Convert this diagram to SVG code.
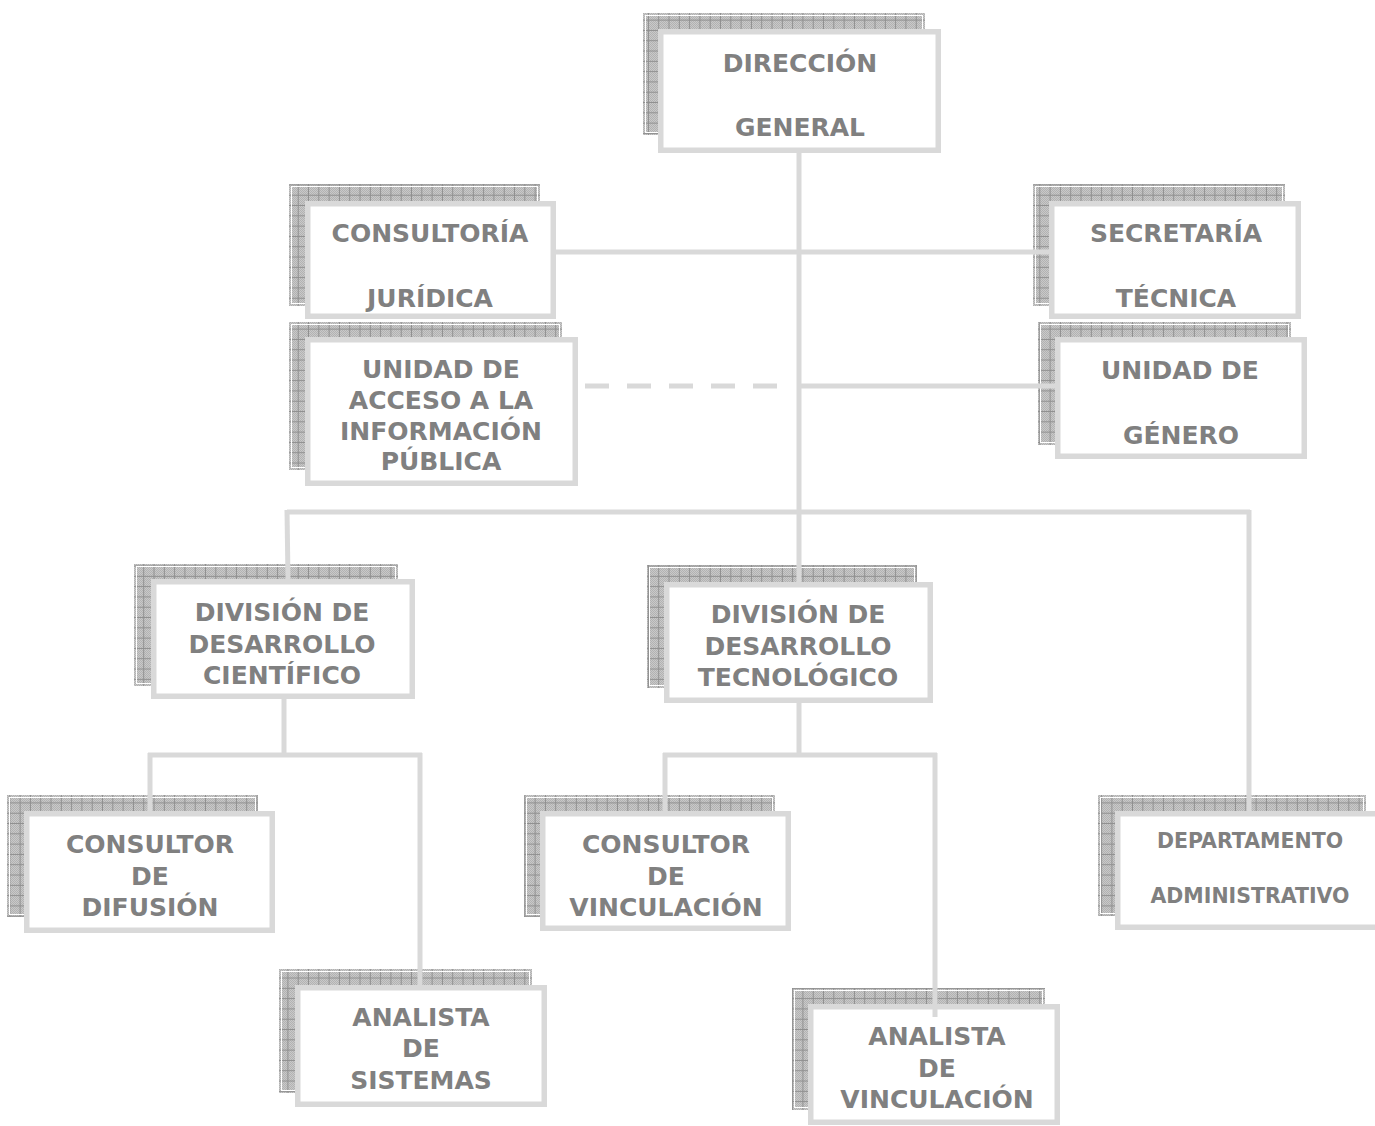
<svg xmlns="http://www.w3.org/2000/svg" width="1375" height="1126" viewBox="0 0 1375 1126">
  <defs>
    <!-- fine dither texture for the drop shadows -->
    <pattern id="dither" width="2" height="2" patternUnits="userSpaceOnUse">
      <rect width="2" height="2" fill="#c9c9c9"/>
      <rect width="1" height="1" fill="#b2b2b2"/>
      <rect x="1" y="1" width="1" height="1" fill="#b2b2b2"/>
    </pattern>
    <!-- grid ruling over the dither -->
    <pattern id="grid" width="10.3" height="10.3" patternUnits="userSpaceOnUse">
      <rect x="9.3" width="1" height="10.3" fill="#8f8f8f"/>
      <rect y="9.3" width="10.3" height="1" fill="#8f8f8f"/>
    </pattern>
  </defs>
  <style>
    .sh-base { fill: url(#dither); }
    .sh-grid { fill: url(#grid); }
    .sh-edge { fill: none; stroke: #ffffff; stroke-width: 1; }
    .box { fill: #ffffff; stroke: #d9d9d9; stroke-width: 5.5; }
    .lbl { font-family: "DejaVu Sans", Verdana, "Liberation Sans", sans-serif; font-weight: bold; font-size: 25px; fill: #808080; text-anchor: middle; }
    .lbl-s { font-size: 20.5px; }
    .conn { fill: none; stroke: #d9d9d9; stroke-width: 5; }
    .dash { stroke-dasharray: 24 18; }
  </style>

  <rect width="1375" height="1126" fill="#ffffff"/>

  <!-- Dirección General -->
  <g id="direccion-general">
    <rect class="sh-base" x="643" y="13" width="282" height="122"/>
    <rect class="sh-grid" x="643" y="13" width="282" height="122"/>
    <rect class="sh-edge" x="645.5" y="15.5" width="277" height="117"/>
    <rect class="box" x="660.75" y="31.75" width="277.5" height="118.5"/>
    <text class="lbl" x="800" y="72">DIRECCIÓN</text>
    <text class="lbl" x="800" y="136">GENERAL</text>
  </g>

  <!-- Consultoría Jurídica -->
  <g id="consultoria-juridica">
    <rect class="sh-base" x="289" y="184" width="251" height="122"/>
    <rect class="sh-grid" x="289" y="184" width="251" height="122"/>
    <rect class="sh-edge" x="291.5" y="186.5" width="246" height="117"/>
    <rect class="box" x="307.75" y="203.75" width="245.5" height="112.5"/>
    <text class="lbl" x="430" y="242">CONSULTORÍA</text>
    <text class="lbl" x="430" y="307">JURÍDICA</text>
  </g>

  <!-- Unidad de Acceso a la Información Pública -->
  <g id="unidad-acceso">
    <rect class="sh-base" x="289" y="322" width="273" height="148"/>
    <rect class="sh-grid" x="289" y="322" width="273" height="148"/>
    <rect class="sh-edge" x="291.5" y="324.5" width="268" height="143"/>
    <rect class="box" x="307.75" y="339.75" width="267.5" height="143.5"/>
    <text class="lbl" x="441" y="378">UNIDAD DE</text>
    <text class="lbl" x="441" y="409">ACCESO A LA</text>
    <text class="lbl" x="441" y="440">INFORMACIÓN</text>
    <text class="lbl" x="441" y="470">PÚBLICA</text>
  </g>

  <!-- Secretaría Técnica -->
  <g id="secretaria-tecnica">
    <rect class="sh-base" x="1033" y="184" width="252" height="122"/>
    <rect class="sh-grid" x="1033" y="184" width="252" height="122"/>
    <rect class="sh-edge" x="1035.5" y="186.5" width="247" height="117"/>
    <rect class="box" x="1051.75" y="203.75" width="246.5" height="112.5"/>
    <text class="lbl" x="1176" y="242">SECRETARÍA</text>
    <text class="lbl" x="1176" y="307">TÉCNICA</text>
  </g>

  <!-- Unidad de Género -->
  <g id="unidad-genero">
    <rect class="sh-base" x="1038" y="322" width="253" height="123"/>
    <rect class="sh-grid" x="1038" y="322" width="253" height="123"/>
    <rect class="sh-edge" x="1040.5" y="324.5" width="248" height="118"/>
    <rect class="box" x="1057.75" y="339.75" width="246.5" height="116.5"/>
    <text class="lbl" x="1180" y="379">UNIDAD DE</text>
    <text class="lbl" x="1181" y="444">GÉNERO</text>
  </g>

  <!-- División de Desarrollo Científico -->
  <g id="division-cientifico">
    <rect class="sh-base" x="134" y="564" width="264" height="122"/>
    <rect class="sh-grid" x="134" y="564" width="264" height="122"/>
    <rect class="sh-edge" x="136.5" y="566.5" width="259" height="117"/>
    <rect class="box" x="153.75" y="581.75" width="258.5" height="114.5"/>
    <text class="lbl" x="282" y="621">DIVISIÓN DE</text>
    <text class="lbl" x="282" y="653">DESARROLLO</text>
    <text class="lbl" x="282" y="684">CIENTÍFICO</text>
  </g>

  <!-- División de Desarrollo Tecnológico -->
  <g id="division-tecnologico">
    <rect class="sh-base" x="647" y="565" width="270" height="123"/>
    <rect class="sh-grid" x="647" y="565" width="270" height="123"/>
    <rect class="sh-edge" x="649.5" y="567.5" width="265" height="118"/>
    <rect class="box" x="666.75" y="584.75" width="263.5" height="115.5"/>
    <text class="lbl" x="798" y="623">DIVISIÓN DE</text>
    <text class="lbl" x="798" y="655">DESARROLLO</text>
    <text class="lbl" x="798" y="686">TECNOLÓGICO</text>
  </g>

  <!-- Consultor de Difusión -->
  <g id="consultor-difusion">
    <rect class="sh-base" x="7" y="795" width="251" height="122"/>
    <rect class="sh-grid" x="7" y="795" width="251" height="122"/>
    <rect class="sh-edge" x="9.5" y="797.5" width="246" height="117"/>
    <rect class="box" x="26.75" y="813.75" width="245.5" height="116.5"/>
    <text class="lbl" x="150" y="853">CONSULTOR</text>
    <text class="lbl" x="150" y="885">DE</text>
    <text class="lbl" x="150" y="916">DIFUSIÓN</text>
  </g>

  <!-- Consultor de Vinculación -->
  <g id="consultor-vinculacion">
    <rect class="sh-base" x="524" y="795" width="251" height="122"/>
    <rect class="sh-grid" x="524" y="795" width="251" height="122"/>
    <rect class="sh-edge" x="526.5" y="797.5" width="246" height="117"/>
    <rect class="box" x="542.75" y="813.75" width="245.5" height="114.5"/>
    <text class="lbl" x="666" y="853">CONSULTOR</text>
    <text class="lbl" x="666" y="885">DE</text>
    <text class="lbl" x="666" y="916">VINCULACIÓN</text>
  </g>

  <!-- Departamento Administrativo -->
  <g id="departamento-administrativo">
    <rect class="sh-base" x="1098" y="795" width="268" height="121"/>
    <rect class="sh-grid" x="1098" y="795" width="268" height="121"/>
    <rect class="sh-edge" x="1100.5" y="797.5" width="263" height="116"/>
    <rect class="box" x="1117.75" y="813.75" width="261.5" height="113.5"/>
    <text class="lbl lbl-s" x="1250" y="848">DEPARTAMENTO</text>
    <text class="lbl lbl-s" x="1250" y="903">ADMINISTRATIVO</text>
  </g>

  <!-- Analista de Sistemas -->
  <g id="analista-sistemas">
    <rect class="sh-base" x="279" y="969" width="253" height="124"/>
    <rect class="sh-grid" x="279" y="969" width="253" height="124"/>
    <rect class="sh-edge" x="281.5" y="971.5" width="248" height="119"/>
    <rect class="box" x="297.75" y="987.75" width="246.5" height="116.5"/>
    <text class="lbl" x="421" y="1026">ANALISTA</text>
    <text class="lbl" x="421" y="1057">DE</text>
    <text class="lbl" x="421" y="1089">SISTEMAS</text>
  </g>

  <!-- Analista de Vinculación -->
  <g id="analista-vinculacion">
    <rect class="sh-base" x="792" y="988" width="253" height="122"/>
    <rect class="sh-grid" x="792" y="988" width="253" height="122"/>
    <rect class="sh-edge" x="794.5" y="990.5" width="248" height="117"/>
    <rect class="box" x="810.75" y="1006.75" width="246.5" height="115.5"/>
    <text class="lbl" x="937" y="1045">ANALISTA</text>
    <text class="lbl" x="937" y="1077">DE</text>
    <text class="lbl" x="937" y="1108">VINCULACIÓN</text>
  </g>

  <!-- connectors -->
  <g id="connectors">
    <path class="conn" d="M799,153 V582"/>
    <path class="conn" d="M556,252 H1049"/>
    <path class="conn dash" d="M585,386 H777"/>
    <path class="conn" d="M799,386 H1055"/>
    <path class="conn" d="M287,512 H1250"/>
    <path class="conn" d="M287,510 L288,579"/>
    <path class="conn" d="M1249,510 V811"/>
    <path class="conn" d="M284,699 V757"/>
    <path class="conn" d="M148,755 H422"/>
    <path class="conn" d="M150,753 V811"/>
    <path class="conn" d="M420,753 V985"/>
    <path class="conn" d="M799,703 V757"/>
    <path class="conn" d="M663,755 H937"/>
    <path class="conn" d="M665,753 V811"/>
    <path class="conn" d="M935,753 V1017"/>
  </g>
</svg>
